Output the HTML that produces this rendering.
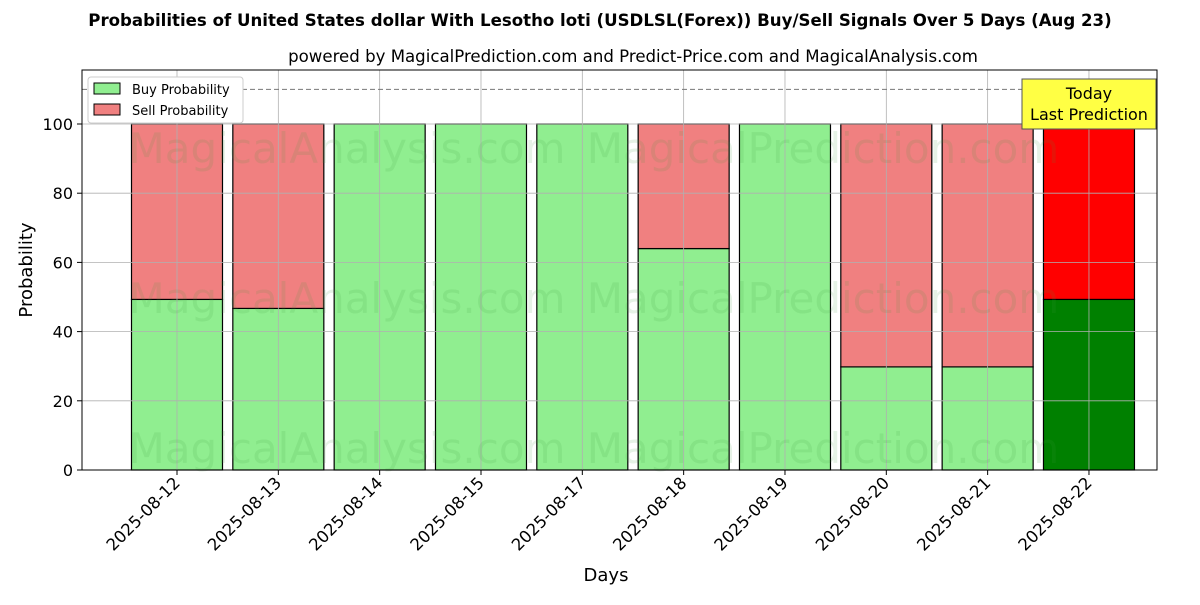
<!DOCTYPE html>
<html><head><meta charset="utf-8"><style>
body{margin:0;background:#fff;}
svg{font-family:"DejaVu Sans","Liberation Sans",sans-serif;}
</style></head><body>
<svg id="c" width="1200" height="600" xmlns="http://www.w3.org/2000/svg">
<text x="600" y="26" text-anchor="middle" font-size="16.6" font-weight="bold">Probabilities of United States dollar With Lesotho loti (USDLSL(Forex)) Buy/Sell Signals Over 5 Days (Aug 23)</text>
<text x="633" y="62" text-anchor="middle" font-size="16.6">powered by MagicalPrediction.com and Predict-Price.com and MagicalAnalysis.com</text>
<g id="bars"></g>
<g id="grid"></g>
<g id="wm" font-size="42" fill="#3a9a3a" fill-opacity="0.13">
<text x="347" y="163" text-anchor="middle">MagicalAnalysis.com</text>
<text x="823" y="163" text-anchor="middle">MagicalPrediction.com</text>
<text x="347" y="313" text-anchor="middle">MagicalAnalysis.com</text>
<text x="823" y="313" text-anchor="middle">MagicalPrediction.com</text>
<text x="347" y="463" text-anchor="middle">MagicalAnalysis.com</text>
<text x="823" y="463" text-anchor="middle">MagicalPrediction.com</text>
</g>
<line x1="82" y1="89.4" x2="1157" y2="89.4" stroke="#777" stroke-dasharray="5,3"/>
<rect x="82" y="70" width="1075" height="400" fill="none" stroke="#000"/>
<g id="axes" font-size="16"></g>
<text x="606" y="581" text-anchor="middle" font-size="18">Days</text>
<text transform="translate(32,270) rotate(-90)" text-anchor="middle" font-size="18">Probability</text>
<g>
<rect x="88" y="77" width="155" height="46" fill="#fff" stroke="#ccc" rx="3"/>
<rect x="94" y="83" width="26" height="11" fill="#90ee90" stroke="#000"/>
<text x="132" y="94" font-size="13">Buy Probability</text>
<rect x="94" y="104" width="26" height="11" fill="#f08080" stroke="#000"/>
<text x="132" y="115" font-size="13">Sell Probability</text>
</g>
<g>
<rect x="1022" y="79" width="134" height="50" fill="#ffff44" stroke="#555"/>
<text x="1089" y="99" text-anchor="middle" font-size="16">Today</text>
<text x="1089" y="120" text-anchor="middle" font-size="16">Last Prediction</text>
</g>
</svg>
<script>
const categories=["2025-08-12","2025-08-13","2025-08-14","2025-08-15","2025-08-17","2025-08-18","2025-08-19","2025-08-20","2025-08-21","2025-08-22"];
const buyValues=[49.3,46.7,100,100,100,64,100,29.8,29.8,49.3];
const sellValues=[50.7,53.3,0,0,0,36,0,70.2,70.2,50.7];
const yTicks=[0,20,40,60,80,100];
const NS="http://www.w3.org/2000/svg";
function X(i){return 177+i*101.33;}
function Y(v){return 470-v*3.46;}
function mk(t,a,p){const e=document.createElementNS(NS,t);for(const k in a)e.setAttribute(k,a[k]);p.appendChild(e);return e;}
const grid=document.getElementById('grid'),bars=document.getElementById('bars'),axes=document.getElementById('axes');
yTicks.forEach(v=>{
 const g=mk('line',{x1:82,x2:1157,y1:Y(v),y2:Y(v),stroke:'#b0b0b0','stroke-width':0.8},grid);
 
 
 mk('line',{x1:77,x2:82,y1:Y(v),y2:Y(v),stroke:'#000'},axes);
 const t=mk('text',{x:73,y:Y(v)+6,'text-anchor':'end'},axes);t.textContent=v;
 
 
});
categories.forEach((c,i)=>{
 const x=X(i),w=91,last=i===categories.length-1;
 const gl=mk('line',{x1:x,x2:x,y1:70,y2:470,stroke:'#b0b0b0','stroke-width':0.8},grid);
 
 
 const b=mk('rect',{x:x-w/2,y:Y(buyValues[i]),width:w,height:Y(0)-Y(buyValues[i]),fill:last?'#008000':'#90ee90',stroke:'#000','stroke-width':1.2},bars);
 
 
 if(sellValues[i]>0){
  const s=mk('rect',{x:x-w/2,y:Y(buyValues[i]+sellValues[i]),width:w,height:Y(buyValues[i])-Y(buyValues[i]+sellValues[i]),fill:last?'#ff0000':'#f08080',stroke:'#000','stroke-width':1.2},bars);
  
  
 }
 mk('line',{x1:x,x2:x,y1:470,y2:475,stroke:'#000'},axes);
 const t=mk('text',{x:x+4,y:484,'text-anchor':'end','font-size':16.5,transform:`rotate(-45 ${x+4} 484)`},axes);t.textContent=c;
 
 
});
</script>
</body></html>
